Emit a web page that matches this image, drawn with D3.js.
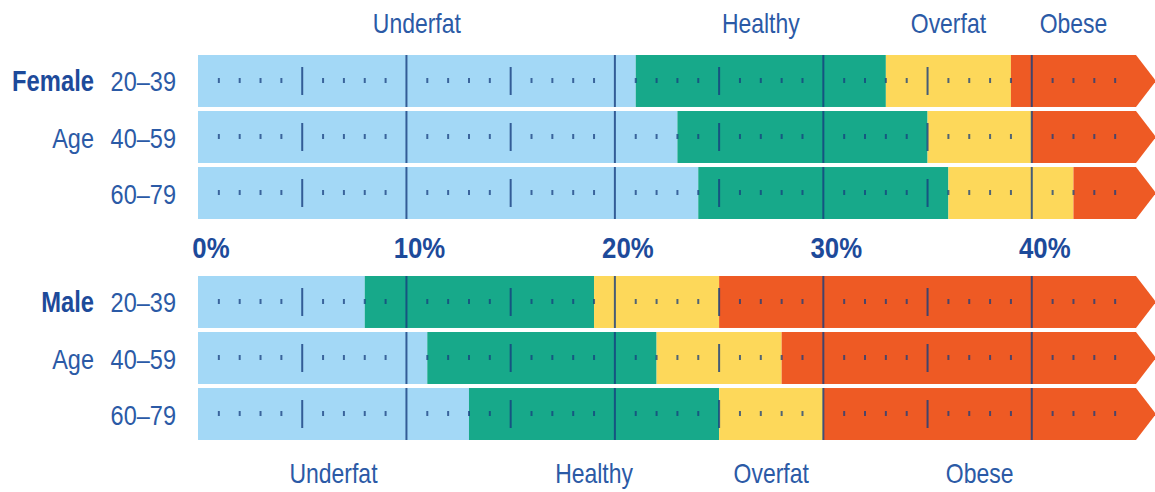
<!DOCTYPE html>
<html>
<head>
<meta charset="utf-8">
<script src="https://cdn.jsdelivr.net/npm/d3@7"></script>
<style>
  body { margin: 0; background: #fff; }
  svg { display: block; }
  text { font-family: 'Liberation Sans', Arial, sans-serif; fill: #2b5aa6; }
</style>
</head>
<body>
<div id="chart"></div>
<script>
// body fat ranges, % of body weight where each band starts
const categories = ['Underfat', 'Healthy', 'Overfat', 'Obese'];
const ages = ['20–39', '40–59', '60–79'];
const femaleStarts = [
    [0, 21, 33, 39],
    [0, 23, 35, 40],
    [0, 24, 36, 42]
];
const maleStarts = [
    [0, 8, 19, 25],
    [0, 11, 22, 28],
    [0, 13, 25, 30]
];
const percentTicks = [0, 10, 20, 30, 40];
const maxPercent = 45;

const colors = ['#a3d8f6', '#17a98a', '#fdd85a', '#ee5a24'];

const width = 1155;
const height = 492;

const svg = d3.select('#chart')
    .append('svg')
    .attr('width', width)
    .attr('height', height);

const x = d3.scaleLinear()
    .domain([0, maxPercent])
    .range([198, 1136]);

const yFemale = d3.scaleBand().domain(ages).range([55, 219]).paddingInner(0.072);
const yMale = d3.scaleBand().domain(ages).range([276, 440]).paddingInner(0.072);

// condensed look: squeeze the text horizontally around its anchor point
function label(parent, px, py, txt, opts = {}) {
    const t = parent.append('text')
        .attr('transform', `translate(${px},${py}) scale(${opts.squeeze || 0.84},1)`)
        .attr('text-anchor', opts.anchor || 'middle')
        .attr('font-size', opts.size || 28)
        .text(txt);
    if (opts.bold) {
        t.attr('font-weight', 'bold').style('fill', '#1d4a9a');
    }
    return t;
}

function segments(starts) {
    return starts.map((s, i) => ({
        cat: categories[i],
        start: s,
        end: i < starts.length - 1 ? starts[i + 1] : maxPercent,
        color: colors[i]
    }));
}

function drawGroup(data, y, sexLabel) {
    const g = svg.append('g');
    const bh = y.bandwidth();

    ages.forEach((age, r) => {
        const top = y(age);
        const row = g.append('g');
        const segs = segments(data[r]);

        row.selectAll('rect')
            .data(segs)
            .enter()
            .append('rect')
            .attr('x', d => x(d.start))
            .attr('y', top)
            .attr('width', d => x(d.end) - x(d.start))
            .attr('height', bh)
            .attr('fill', d => d.color);

        // arrow head on the obese end
        row.append('path')
            .attr('d', `M${x(maxPercent) - 1},${top} L${x(maxPercent)},${top} L${x(maxPercent) + 20},${top + bh / 2} L${x(maxPercent)},${top + bh} L${x(maxPercent) - 1},${top + bh} Z`)
            .attr('fill', colors[3]);

        // 1% ticks, 5% ticks and 10% lines
        const ticks = x.ticks(maxPercent).filter(t => t > 0 && t < maxPercent);
        row.selectAll('line')
            .data(ticks)
            .enter()
            .append('line')
            .attr('x1', d => x(d))
            .attr('x2', d => x(d))
            .attr('y1', d => d % 10 === 0 ? top : d % 5 === 0 ? top + 12 : top + bh / 2 - 3)
            .attr('y2', d => d % 10 === 0 ? top + bh : d % 5 === 0 ? top + bh - 12 : top + bh / 2 + 2)
            .attr('stroke', '#173d7e')
            .attr('stroke-opacity', d => d % 5 === 0 ? 0.8 : 0.75)
            .attr('stroke-width', 2);

        // row labels
        const base = top + bh / 2 + 10.5;
        label(g, 176, base, age, { anchor: 'end' });
        if (r === 0) label(g, 94, base, sexLabel, { anchor: 'end', bold: true, size: 29, squeeze: 0.82 });
        if (r === 1) label(g, 94, base, 'Age', { anchor: 'end' });
    });
}

drawGroup(femaleStarts, yFemale, 'Female');
drawGroup(maleStarts, yMale, 'Male');

// percent axis between the groups
const axis = svg.append('g');
percentTicks.forEach(p => {
    label(axis, x(p) + 13, 258, p + '%', { bold: true, size: 30, squeeze: 0.86 });
});

// category names over the first female row and under the last male row
const topNames = svg.append('g');
segments(femaleStarts[0]).forEach(d => {
    label(topNames, x((d.start + d.end) / 2), 33, d.cat, { squeeze: 0.82 });
});
const bottomNames = svg.append('g');
segments(maleStarts[2]).forEach(d => {
    label(bottomNames, x((d.start + d.end) / 2), 483, d.cat, { squeeze: 0.82 });
});
</script>
</body>
</html>
